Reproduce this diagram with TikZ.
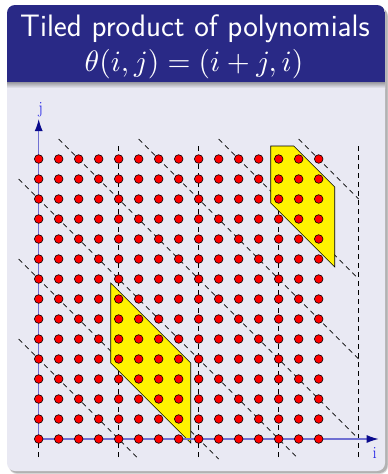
\documentclass[tikz,border=0pt]{standalone}
\usepackage{fontspec}
\usetikzlibrary{arrows.meta}
\definecolor{titlebg}{RGB}{41,41,134}
\definecolor{bodybg}{RGB}{233,233,243}
\definecolor{axiscol}{RGB}{112,112,210}
\definecolor{tipcol}{RGB}{10,10,140}
\definecolor{labcol}{RGB}{30,30,230}
\begin{document}
\begin{tikzpicture}[x=1pt,y=-1pt,
  dot/.style={fill=red,draw=black,line width=0.6pt},
  tile/.style={fill=yellow,draw=black,line width=0.6pt},
  guide/.style={draw=black,line width=0.7pt,dash pattern=on 5pt off 4pt},
  axis/.style={draw=axiscol,line width=1.3pt,-{Latex[length=12pt,width=8pt,color=tipcol]}},
  lab/.style={text=labcol,font=\fontsize{17}{19}\selectfont,inner sep=0pt}]
\useasboundingbox (0,0) rectangle (388,474);
\fill[white] (0,0) rectangle (388,474);
% shadow
\fill[black!15, rounded corners=8pt] (9,8) rectangle (388,474);
\fill[black!30, rounded corners=8pt] (9,8) rectangle (387.5,473);
% body
\fill[bodybg, rounded corners=8pt] (7,5) rectangle (385,471);
\begin{scope}
  \clip[rounded corners=8pt] (7,5) rectangle (385,471);
  \fill[titlebg] (7,5) rectangle (385,82);
  \shade[top color=black!35!bodybg, bottom color=bodybg] (7,82) rectangle (385,88);
\end{scope}
% title
\node[anchor=base, text=white, font=\sffamily\fontsize{31}{36}\selectfont, inner sep=0pt] (title1) at (195,36) {Tiled product of polynomials};
\node[anchor=base, text=white, inner sep=0pt] (title2) at (194,71) {\scalebox{2.95}{$\theta(i,j)=(i+j,i)$}};
% grid
\begin{scope}[shift={(38.7,439)},x=20pt,y=20pt]
  % vertical guides
  \foreach \k in {0,4,8,12,16} \draw[guide] (\k,-0.9) -- (\k,14.8);
  % diagonal guides
  \draw[guide] (-1,5) -- (5,-1);
  \draw[guide] (-1,9) -- (9,-1);
  \draw[guide] (-1,13) -- (13,-1);
  \draw[guide] (1,15) -- (16,0);
  \draw[guide] (5,15) -- (16,4);
  \draw[guide] (9,15) -- (16,8);
  \draw[guide] (13,15) -- (16,12);
  % tiles
  \draw[tile] (3.6,7.8) -- (3.6,3.8) -- (7.6,-0.2) -- (7.6,3.8) -- cycle;
  \draw[tile] (11.6,11.8) -- (11.6,14.65) -- (12.75,14.65) -- (14.8,12.6) -- (14.8,8.6) -- cycle;
  % axes
  \coordinate (O) at (0,0);
  \coordinate (Iend) at (17,0);
  \coordinate (Jend) at (0,16);
  \draw[axis] (O) -- (Iend);
  \draw[axis] (O) -- (Jend);
  \node[lab] (ilab) at (16.8,-0.7) {i};
  \node[lab] (jlab) at (0.1,16.45) {j};
  % dots
  \foreach \i in {0,...,14}
    \foreach \j in {0,...,14}
      \draw[dot] (\i,\j) circle (0.215);
\end{scope}
\end{tikzpicture}
\end{document}
